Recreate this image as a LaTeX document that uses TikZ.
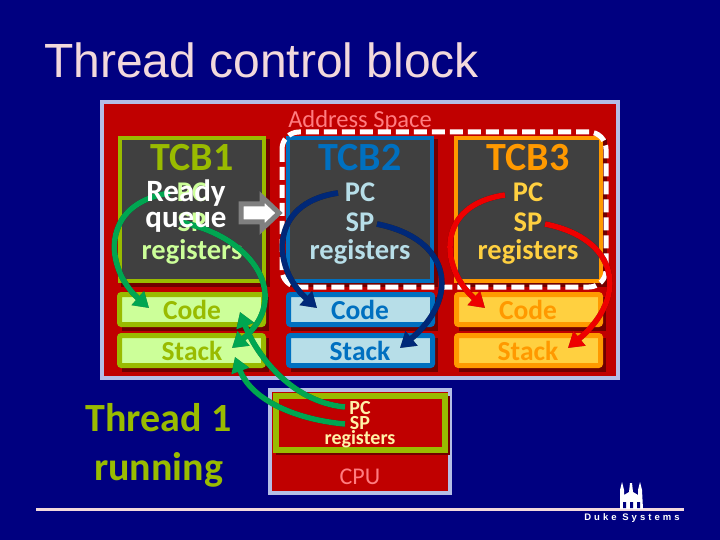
\documentclass[tikz,border=0pt]{standalone}
\usepackage{fontspec}
\setmainfont{Carlito}
\newfontfamily\titlefont{Liberation Sans}
\newfontfamily\dukefont[LetterSpace=32]{Liberation Sans}
\usetikzlibrary{arrows.meta}
\definecolor{navy}{HTML}{000080}
\definecolor{panelred}{HTML}{C00000}
\definecolor{shadowred}{HTML}{700000}
\definecolor{edge}{HTML}{B4BEE6}
\definecolor{titlecol}{HTML}{F2D9DC}
\definecolor{slate}{HTML}{404040}
\definecolor{olive}{HTML}{99BB00}
\definecolor{palegreen}{HTML}{CCFF99}
\definecolor{regblue}{HTML}{0070C0}
\definecolor{paleblue}{HTML}{B7DEE8}
\definecolor{orng}{HTML}{FF9900}
\definecolor{gold}{HTML}{FFD040}
\definecolor{pink}{HTML}{FF7C80}
\definecolor{cream}{HTML}{FFF2A8}
\definecolor{arrgreen}{HTML}{00A651}
\definecolor{arrnavy}{HTML}{002878}
\definecolor{arrred}{HTML}{EE0000}
\tikzset{
  x=1pt,y=-1pt,
  panel/.style={fill=panelred,draw=edge,line width=4pt},
  tcbbox/.style={fill=slate,line width=4pt,draw=#1},
  segbox/.style={line width=5pt,rounded corners=2pt},
  tcbtitle/.style={font=\bfseries\fontsize{40}{44}\selectfont,text=#1,inner sep=0pt},
  fieldtext/.style={font=\bfseries\fontsize{28.5}{30}\selectfont,text=#1,inner sep=0pt},
  segtext/.style={font=\bfseries\fontsize{27.5}{30}\selectfont,text=#1,inner sep=0pt},
  cputext/.style={font=\bfseries\fontsize{20}{22}\selectfont,text=cream,inner sep=0pt},
  curve/.style={line width=5.5pt,draw=#1,-{Triangle[length=15pt,width=18pt,fill=#1]}},
  curveshadow/.style={line width=5.5pt,draw=black,opacity=.5,-{Triangle[length=15pt,width=18pt,fill=black]}},
}
\newcommand{\segment}[6]{% x1 y1 x2 y2 border fill
  \fill[shadowred] (#1+5,#2+5) rectangle (#3+3,#4+4);
  \draw[segbox,draw=#5,fill=#6] (#1+2.5,#2+2.5) rectangle (#3-2.5,#4-2.5);
}
\newcommand{\tcbshape}[5]{%
  \fill[shadowred] (#1+3,#2+3) rectangle (#3+4,#4+4);
  \draw[tcbbox=#5] (#1+2,#2+2) rectangle (#3-2,#4-2);
}
\newcommand{\leftarc}[3]{\draw[#3] (#1) .. controls ([xshift=-70,yshift=-10]#1) and ([xshift=-45,yshift=40]#2) .. (#2);}
\newcommand{\rightarc}[3]{\draw[#3] (#1) .. controls ([xshift=75,yshift=-15]#1) and ([xshift=60,yshift=50]#2) .. (#2);}
\newcommand{\cpuarc}[3]{\draw[#3] (#1) .. controls ([xshift=-55,yshift=5]#1) and ([xshift=15,yshift=-40]#2) .. (#2);}
\begin{document}
\begin{tikzpicture}
\useasboundingbox (0,0) rectangle (720,540);
\fill[navy] (0,0) rectangle (720,540);
\node[anchor=west,inner sep=0pt,text=titlecol,font=\titlefont\fontsize{48}{52}\selectfont] (title) at (44,60) {Thread control block};
% address space panel
\draw[panel] (102,102) rectangle (618,378);
\node[inner sep=0pt,text=pink,font=\fontsize{24.5}{26}\selectfont] (aslabel) at (360,121) {Address Space};
% TCB boxes
\tcbshape{118}{136}{266}{283}{olive}
\tcbshape{286}{136}{434}{283}{regblue}
\tcbshape{454}{136}{603}{283}{orng}
% dashed region
\draw[white,line width=5pt,dash pattern=on 13pt off 5pt,rounded corners=17pt] (282,132) rectangle (606,287);
% segments
\segment{117}{292}{266}{327}{olive}{palegreen}
\segment{117}{333}{266}{368}{olive}{palegreen}
\segment{286}{292}{435}{327}{regblue}{paleblue}
\segment{286}{333}{435}{368}{regblue}{paleblue}
\segment{454}{292}{603}{327}{orng}{gold}
\segment{454}{333}{603}{368}{orng}{gold}
% titles
\node[tcbtitle=olive] (tcbA) at (192,158) {TCB1};
\node[tcbtitle=regblue] (tcbB) at (360,158) {TCB2};
\node[tcbtitle=orng] (tcbC) at (528,158) {TCB3};
% fields
\node[fieldtext=palegreen] (pcA) at (192,192) {PC};
\node[fieldtext=palegreen] (spA) at (192,222) {SP};
\node[fieldtext=palegreen] (regA) at (192,252) {registers};
\node[fieldtext=paleblue] (pcB) at (360,192) {PC};
\node[fieldtext=paleblue] (spB) at (360,222) {SP};
\node[fieldtext=paleblue] (regB) at (360,252) {registers};
\node[fieldtext=gold] (pcC) at (528,192) {PC};
\node[fieldtext=gold] (spC) at (528,222) {SP};
\node[fieldtext=gold] (regC) at (528,252) {registers};
% segment text
\node[segtext=olive] (codeA) at (192,310) {Code};
\node[segtext=olive] (stackA) at (192,351) {Stack};
\node[segtext=regblue] (codeB) at (360,310) {Code};
\node[segtext=regblue] (stackB) at (360,351) {Stack};
\node[segtext=orng] (codeC) at (528,310) {Code};
\node[segtext=orng] (stackC) at (528,351) {Stack};
% CPU
\draw[panel] (270,390) rectangle (450,493);
\fill[shadowred] (276,396) rectangle (450,455);
\draw[olive,line width=6pt,fill=panelred] (276,396) rectangle (445,450);
\node[inner sep=0pt,text=pink,font=\fontsize{24}{26}\selectfont] (cpu) at (360,477) {CPU};
% thread label
\node[align=center,inner sep=0pt,text=olive,font=\bfseries\fontsize{40}{49}\selectfont] (thread) at (158.5,445) {Thread 1\\running};
% curve anchors
\coordinate (a1s) at (170,193); \coordinate (a1e) at (149,308);
\coordinate (a2s) at (180,222); \coordinate (a2e) at (232,348);
\coordinate (b1s) at (338,193); \coordinate (b1e) at (317,308);
\coordinate (b2s) at (377,224); \coordinate (b2e) at (400,348);
\coordinate (c1s) at (505,195); \coordinate (c1e) at (485,308);
\coordinate (c2s) at (545,224); \coordinate (c2e) at (568,348);
\coordinate (d1s) at (345,407); \coordinate (d1e) at (240,312);
\coordinate (d2s) at (345,424); \coordinate (d2e) at (235,357);
\begin{scope}[shift={(3,3)}]
\leftarc{a1s}{a1e}{curveshadow} \rightarc{a2s}{a2e}{curveshadow}
\leftarc{b1s}{b1e}{curveshadow} \rightarc{b2s}{b2e}{curveshadow}
\leftarc{c1s}{c1e}{curveshadow} \rightarc{c2s}{c2e}{curveshadow}
\cpuarc{d1s}{d1e}{curveshadow} \cpuarc{d2s}{d2e}{curveshadow}
\end{scope}
\leftarc{a1s}{a1e}{curve=arrgreen} \rightarc{a2s}{a2e}{curve=arrgreen}
\leftarc{b1s}{b1e}{curve=arrnavy} \rightarc{b2s}{b2e}{curve=arrnavy}
\leftarc{c1s}{c1e}{curve=arrred} \rightarc{c2s}{c2e}{curve=arrred}
\cpuarc{d1s}{d1e}{curve=arrgreen} \cpuarc{d2s}{d2e}{curve=arrgreen}
% cpu text over the arrows
\node[cputext] (cpuPC) at (360,408) {PC};
\node[cputext] (cpuSP) at (360,423) {SP};
\node[cputext] (cpuReg) at (360,439) {registers};
% ready queue
\node[inner sep=0pt,text=white,font=\bfseries\fontsize{31}{26}\selectfont,align=center] (ready) at (186,206) {Ready\\queue};
\draw[draw=gray,line width=5pt,fill=white,line join=miter] (241,204) -- (262,204) -- (262,197) -- (279,213) -- (262,229) -- (262,222) -- (241,222) -- cycle;
% rule and logo
\draw[draw=titlecol,line width=3pt] (36,509) -- (684,509);
\fill[white] (620,509) -- (620,490) -- (622,482) -- (624,490) -- (624,495) -- (629,492) -- (630,483) -- (632,483) -- (633,492) -- (638,495) -- (638,490) -- (640,482) -- (642,490) -- (643,509) -- cycle;
\fill[navy] (623,502) rectangle (626,508) (630,502) rectangle (633,508) (637,502) rectangle (640,508);
\node[inner sep=0pt,text=white,font=\dukefont\bfseries\fontsize{9.5}{10}\selectfont] (duke) at (632,518) {Duke Systems};
\end{tikzpicture}
\end{document}
